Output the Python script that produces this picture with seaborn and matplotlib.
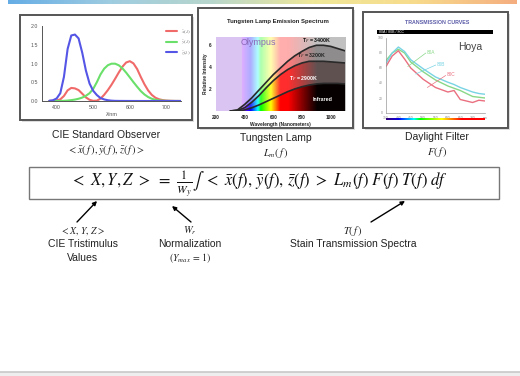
import numpy as np
import pandas as pd
import matplotlib
matplotlib.use("Agg")
import matplotlib.pyplot as plt
import seaborn as sns
from matplotlib.patches import Rectangle

# ---------------- data ----------------
cie_wavelength = list(range(380, 790, 10))
cie_x = [0.0014, 0.0042, 0.0143, 0.0435, 0.1344, 0.2839, 0.3483, 0.3362, 0.2908, 0.1954,
         0.0956, 0.0320, 0.0049, 0.0093, 0.0633, 0.1655, 0.2904, 0.4334, 0.5945, 0.7621,
         0.9163, 1.0263, 1.0622, 1.0026, 0.8544, 0.6424, 0.4479, 0.2835, 0.1649, 0.0874,
         0.0468, 0.0227, 0.0114, 0.0058, 0.0029, 0.0014, 0.0007, 0.0003, 0.0002, 0.0001, 0.0000]
cie_y = [0.0000, 0.0001, 0.0004, 0.0012, 0.0040, 0.0116, 0.0230, 0.0380, 0.0600, 0.0910,
         0.1390, 0.2080, 0.3230, 0.5030, 0.7100, 0.8620, 0.9540, 0.9950, 0.9950, 0.9520,
         0.8700, 0.7570, 0.6310, 0.5030, 0.3810, 0.2650, 0.1750, 0.1070, 0.0610, 0.0320,
         0.0170, 0.0082, 0.0041, 0.0021, 0.0010, 0.0005, 0.0002, 0.0001, 0.0001, 0.0000, 0.0000]
cie_z = [0.0065, 0.0201, 0.0679, 0.2074, 0.6456, 1.3856, 1.7471, 1.7721, 1.6692, 1.2876,
         0.8130, 0.4652, 0.2720, 0.1582, 0.0782, 0.0422, 0.0203, 0.0087, 0.0039, 0.0021,
         0.0017, 0.0011, 0.0008, 0.0003, 0.0002, 0.0, 0.0, 0.0, 0.0, 0.0,
         0.0, 0.0, 0.0, 0.0, 0.0, 0.0, 0.0, 0.0, 0.0, 0.0, 0.0]
cie_names = [r"$\bar{x}(\lambda)$", r"$\bar{y}(\lambda)$", r"$\bar{z}(\lambda)$"]
cie_xticks = [400, 500, 600, 700]
cie_yticks = [0.0, 0.5, 1.0, 1.5, 2.0]

lamp_wavelength = [300, 350, 400, 450, 500, 550, 600, 650, 700, 750, 800, 850, 900, 950, 1000, 1050, 1100]
lamp_3400 = [0.0, 0.1, 0.6, 1.2, 1.9, 2.6, 3.3, 3.9, 4.5, 5.0, 5.4, 5.75, 5.95, 5.95, 5.85, 5.65, 5.45]
lamp_3200 = [0.0, 0.05, 0.3, 0.8, 1.4, 2.1, 2.75, 3.3, 3.75, 4.1, 4.35, 4.5, 4.5, 4.5, 4.45, 4.4, 4.35]
lamp_2900 = [0.0, 0.0, 0.1, 0.3, 0.55, 0.85, 1.15, 1.45, 1.75, 2.0, 2.2, 2.35, 2.45, 2.5, 2.5, 2.5, 2.45]
lamp_labels = [r"T$_F$ = 3400K", r"T$_F$ = 3200K", r"T$_F$ = 2900K"]
lamp_xticks = [200, 400, 600, 800, 1000]
lamp_yticks = [2, 4, 6]

filter_wavelength = [350, 375, 400, 425, 450, 500, 550, 600, 625, 650, 700, 725, 750]
filter_80a = [70, 80, 85, 80, 68, 55, 44, 36, 33, 30, 22, 21, 20]
filter_80b = [66, 80, 88, 82, 71, 59, 48, 41, 38, 34, 28, 26, 25]
filter_80c = [62, 76, 83, 72, 60, 45, 34, 28, 30, 18, 14, 17, 16]
filter_names = ["80A", "80B", "80C"]
filter_yticks = [0, 20, 40, 60, 80, 100]
filter_xticks = [350, 400, 450, 500, 550, 600, 650, 700, 750]

# ---------------- style ----------------
sns.set_theme(style="white")
plt.rcParams['font.family'] = ['Liberation Sans', 'DejaVu Sans']
plt.rcParams['mathtext.fontset'] = 'stix'

W, H = 520, 376
fig = plt.figure(figsize=(5.2, 3.76), dpi=100)
fig.patch.set_facecolor("white")

bg = fig.add_axes([0, 0, 1, 1], zorder=0)
bg.set_xlim(0, W)
bg.set_ylim(H, 0)
bg.axis("off")


def px_axes(l, t, r, b, z=2):
    return fig.add_axes([l / W, 1 - b / H, (r - l) / W, (b - t) / H], zorder=z)


def wl_rgb(w):
    if w < 380:
        c = (0.55, 0.3, 0.85)
    elif w < 440:
        c = (-(w - 440) / 60 * 0.6, 0.0, 1.0)
    elif w < 490:
        c = (0.0, (w - 440) / 50, 1.0)
    elif w < 510:
        c = (0.0, 1.0, -(w - 510) / 20)
    elif w < 580:
        c = ((w - 510) / 70, 1.0, 0.0)
    elif w < 645:
        c = (1.0, -(w - 645) / 65, 0.0)
    else:
        c = (1.0, 0.0, 0.0)
    return np.array(c)


# ---------------- banner & footer ----------------
grad_cols = np.array([[0.40, 0.68, 0.90], [0.62, 0.80, 0.88], [0.72, 0.84, 0.80],
                      [0.94, 0.91, 0.60], [0.97, 0.86, 0.55], [0.96, 0.68, 0.50]])
xs = np.linspace(0, 1, 300)
banner = np.stack([np.interp(xs, np.linspace(0, 1, len(grad_cols)), grad_cols[:, i]) for i in range(3)], axis=-1)
bg.imshow(banner[None, :, :], extent=(8, 517, 4.5, 0), aspect="auto", zorder=1)
bg.add_patch(Rectangle((0, 372), W, 4, facecolor="#eeeeee", edgecolor="none", zorder=1))
bg.plot([0, W], [372, 372], color="#c8c8c8", lw=1.2, zorder=2)

# ---------------- frames ----------------
for (l, t, r, b) in [(20, 15, 192, 120), (198, 8, 353, 128), (363, 12, 508, 128)]:
    bg.add_patch(Rectangle((l + 1.5, t + 1.5), r - l, b - t, facecolor="#dddddd", edgecolor="none", zorder=1))
    bg.add_patch(Rectangle((l, t), r - l, b - t, facecolor="white", edgecolor="#555555", lw=1.4, zorder=2))

# ---------------- panel 1: CIE ----------------
ax1 = px_axes(42, 26, 181, 101)
cie_df = pd.DataFrame({
    "wavelength": cie_wavelength * 3,
    "value": cie_x + cie_y + cie_z,
    "series": [cie_names[0]] * len(cie_x) + [cie_names[1]] * len(cie_y) + [cie_names[2]] * len(cie_z),
})
sns.lineplot(data=cie_df, x="wavelength", y="value", hue="series",
             palette=["#f06a6a", "#6ae06a", "#5555e6"], lw=1.5, ax=ax1)
ax1.set_xlim(360, 740)
ax1.set_ylim(0, 2.0)
ax1.set_xticks(cie_xticks)
ax1.set_yticks(cie_yticks)
ax1.set_yticklabels([f"{v:.1f}" for v in cie_yticks])
ax1.set_xlabel("λ/nm", fontsize=4, color="#555555", labelpad=1)
ax1.set_ylabel("")
ax1.tick_params(labelsize=3.8, colors="#555555", length=2, width=0.5, pad=2, direction="inout")
for s in ["top", "right"]:
    ax1.spines[s].set_visible(False)
for s in ["left", "bottom"]:
    ax1.spines[s].set_color("#555555")
    ax1.spines[s].set_linewidth(0.7)
ax1.spines["bottom"].set_linestyle((0, (2, 1)))
ax1.patch.set_alpha(0)
h, lab = ax1.get_legend_handles_labels()
ax1.legend(h, lab, loc="upper right", bbox_to_anchor=(1.1, 1.02), fontsize=3.8, frameon=False,
           handlelength=2.0, labelspacing=0.5, borderpad=0.2, labelcolor="#777777")

bg.text(106, 135, "CIE Standard Observer", ha="center", va="center", fontsize=7.5, color="#222222", zorder=3)
bg.text(106, 150, r"$<\bar{x}(\,f\,),\bar{y}(\,f\,),\bar{z}(\,f\,)>$", ha="center", va="center",
        fontsize=7.5, color="#222222", zorder=3)

# ---------------- panel 2: Tungsten ----------------
ax2 = px_axes(216, 37, 345, 111)
ymax2 = 6.7
lam_grid = np.arange(200, 1101, 2)
layer_params = [
    (0.68, np.array([0.76, 0.76, 0.76])),
    (0.48, np.array([0.56, 0.55, 0.55])),
    (0.18, np.array([0.38, 0.32, 0.32])),
    (0.0, np.array([0.03, 0.0, 0.0])),
]


def layer_image(w, ir):
    cols = []
    red = (1 - w) * np.array([1.0, 0.0, 0.0]) + w
    for lam in lam_grid:
        if lam <= 700:
            c = (1 - w) * wl_rgb(lam) + w
        elif lam < 900:
            t = (lam - 700) / 200
            c = (1 - t) * red + t * ir
        else:
            c = ir
        cols.append(c)
    return np.clip(np.array(cols), 0, 1)[None, :, :]


ext = (200, 1100, 0, ymax2)
ax2.imshow(layer_image(*layer_params[0]), extent=ext, aspect="auto", zorder=0)
for k, curve in enumerate([lamp_3400, lamp_3200, lamp_2900]):
    poly = ax2.fill_between(lamp_wavelength, 0, curve, color="none", lw=0)
    im = ax2.imshow(layer_image(*layer_params[k + 1]), extent=ext, aspect="auto", zorder=k + 1)
    im.set_clip_path(poly.get_paths()[0], transform=ax2.transData)

lamp_df = pd.DataFrame({
    "wavelength": lamp_wavelength * 3,
    "value": lamp_3400 + lamp_3200 + lamp_2900,
    "series": [lamp_labels[0]] * len(lamp_3400) + [lamp_labels[1]] * len(lamp_3200) + [lamp_labels[2]] * len(lamp_2900),
})
sns.lineplot(data=lamp_df, x="wavelength", y="value", hue="series",
             palette=["#2a2a2a"] * 3, lw=1.2, ax=ax2, legend=False, zorder=6)
ax2.set_xlim(200, 1100)
ax2.set_ylim(0, ymax2)
ax2.set_xticks(lamp_xticks)
ax2.set_yticks(lamp_yticks)
ax2.tick_params(labelsize=3.4, colors="#222222", length=1.5, width=0.5, pad=1.5)
for lbl in ax2.get_xticklabels() + ax2.get_yticklabels():
    lbl.set_fontweight("bold")
ax2.set_xlabel("Wavelength (Nanometers)", fontsize=3.5, fontweight="bold", labelpad=1.5, color="#222222")
ax2.set_ylabel("Relative Intensity", fontsize=3.5, fontweight="bold", labelpad=1.0, color="#222222")
for s in ax2.spines.values():
    s.set_visible(False)
ax2.text(370, 6.0, "Olympus", fontsize=6.5, color="#8a68b8", zorder=7)
ax2.text(900, 6.25, lamp_labels[0], fontsize=3.8, color="#111111", ha="center", fontweight="bold", zorder=7)
ax2.text(870, 4.85, lamp_labels[1], fontsize=3.8, color="#222222", ha="center", fontweight="bold", zorder=7)
ax2.text(810, 2.75, lamp_labels[2], fontsize=3.8, color="white", ha="center", fontweight="bold", zorder=7)
ax2.text(946, 0.9, "Infrared", fontsize=3.8, color="white", ha="center", fontweight="bold", zorder=7)
bg.text(278, 21, "Tungsten Lamp Emission Spectrum", ha="center", va="center", fontsize=4.3,
        fontweight="bold", color="#222222", zorder=3)
bg.text(276, 138, "Tungsten Lamp", ha="center", va="center", fontsize=7.5, color="#222222", zorder=3)
bg.text(276, 153, r"$L_m(\,f\,)$", ha="center", va="center", fontsize=7.5, color="#222222", zorder=3)

# ---------------- panel 3: Hoya filters ----------------
ax3 = px_axes(386, 38, 485, 113)
filter_df = pd.DataFrame({
    "wavelength": filter_wavelength * 3,
    "value": filter_80a + filter_80b + filter_80c,
    "series": [filter_names[0]] * len(filter_80a) + [filter_names[1]] * len(filter_80b) + [filter_names[2]] * len(filter_80c),
})
fcols = ["#88d888", "#78d4e4", "#ea7080"]
sns.lineplot(data=filter_df, x="wavelength", y="value", hue="series", palette=fcols,
             lw=1.0, ax=ax3, legend=False)
ax3.set_xlim(350, 750)
ax3.set_ylim(0, 100)
ax3.set_xticks(filter_xticks)
ax3.set_yticks(filter_yticks)
ax3.set_xticklabels([str(v) for v in filter_xticks[:-1]] + ["nm"])
ax3.tick_params(labelsize=2.4, colors="#888888", length=1.2, width=0.4, pad=1)
ax3.set_xlabel("")
ax3.set_ylabel("")
for s in ["top", "right"]:
    ax3.spines[s].set_visible(False)
for s in ["left", "bottom"]:
    ax3.spines[s].set_color("#999999")
    ax3.spines[s].set_linewidth(0.5)
ax3.text(690, 88, "Hoya", fontsize=7.5, color="#444444", ha="center", va="center")
label_pos = [(515, 81, 438, 62), (555, 65, 470, 52), (595, 51, 517, 34)]
for (tx, ty, lx, ly), name, c in zip(label_pos, filter_names, fcols):
    ax3.text(tx, ty, name, fontsize=3.4, color=c, ha="left", va="center")
    ax3.plot([tx - 4, lx], [ty - 1, ly], color=c, lw=0.5)

bar_ax = px_axes(386, 117.5, 485, 120.5)
bar_cols = np.array([wl_rgb(l) * (0.45 + 0.55 * min(1, (l - 400) / 50)) for l in np.linspace(400, 720, 200)])
bar_ax.imshow(bar_cols[None, :, :], aspect="auto", extent=(0, 1, 0, 1))
bar_ax.axis("off")

bg.text(437, 22, "TRANSMISSION CURVES", ha="center", va="center", fontsize=3.8, fontweight="bold",
        color="#5a5aa8", zorder=3)
bg.add_patch(Rectangle((377, 30), 116, 4, facecolor="black", edgecolor="none", zorder=3))
bg.text(379, 32.2, "80A / 80B / 80C", ha="left", va="center", fontsize=2.6, color="white", zorder=4)
bg.text(437, 137, "Daylight Filter", ha="center", va="center", fontsize=7.5, color="#222222", zorder=3)
bg.text(437, 152, r"$F(\,f\,)$", ha="center", va="center", fontsize=7.5, color="#222222", zorder=3)

# ---------------- equation ----------------
bg.add_patch(Rectangle((29, 167), 470, 32, facecolor="white", edgecolor="#777777", lw=1.0, zorder=2))
bg.text(259, 184.5,
        r"$<\ X,Y,Z\ >\ =\ \frac{1}{W_y}\int\ <\ \bar{x}(f),\,\bar{y}(f),\,\bar{z}(f)\ >\ L_m(f)\ F(f)\ T(f)\ df$",
        ha="center", va="center", fontsize=12, color="#111111", zorder=3)

arrow_kw = dict(arrowstyle="-|>", color="black", lw=1.0, mutation_scale=6, shrinkA=0, shrinkB=0)
bg.annotate("", xy=(97, 201), xytext=(77, 222), arrowprops=arrow_kw, zorder=3)
bg.annotate("", xy=(172, 206), xytext=(191, 222), arrowprops=arrow_kw, zorder=3)
bg.annotate("", xy=(405, 201), xytext=(371, 222), arrowprops=arrow_kw, zorder=3)

bg.text(83, 231, r"$<X,\,Y,\,Z>$", ha="center", va="center", fontsize=7, color="#222222", zorder=3)
bg.text(83, 244, "CIE Tristimulus", ha="center", va="center", fontsize=7.5, color="#222222", zorder=3)
bg.text(83, 258, "Values", ha="center", va="center", fontsize=7.5, color="#222222", zorder=3)
bg.text(190, 231, r"$W_r$", ha="center", va="center", fontsize=7.5, color="#222222", zorder=3)
bg.text(190, 244, "Normalization", ha="center", va="center", fontsize=7.5, color="#222222", zorder=3)
bg.text(190, 258, r"$(Y_{max}\,=\,1)$", ha="center", va="center", fontsize=7, color="#222222", zorder=3)
bg.text(353, 231, r"$T(\,f\,)$", ha="center", va="center", fontsize=7.5, color="#222222", zorder=3)
bg.text(353, 244, "Stain Transmission Spectra", ha="center", va="center", fontsize=7.5, color="#222222", zorder=3)

fig.savefig("out.png", dpi=100)
